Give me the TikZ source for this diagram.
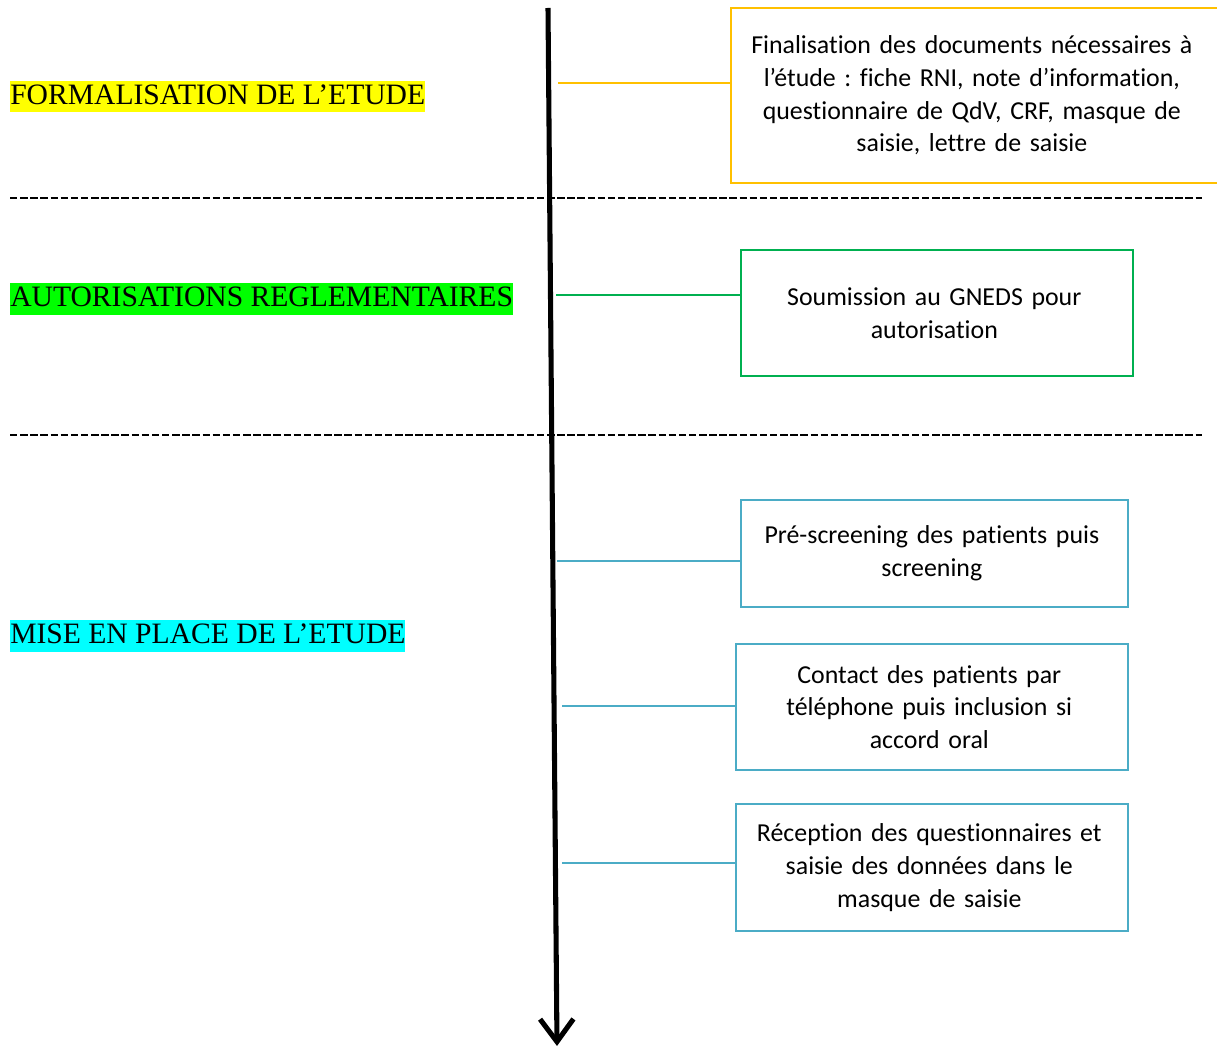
\documentclass[tikz,border=0pt]{standalone}
\usepackage{fontspec}
\setmainfont{Liberation Serif}
\newfontfamily\boxfont[Ligatures=NoCommon]{Carlito}
\usetikzlibrary{arrows.meta}
\definecolor{cyel}{HTML}{FFC000}
\definecolor{cgrn}{HTML}{00B050}
\definecolor{cblu}{HTML}{4BACC6}
\definecolor{hyel}{HTML}{FFFF00}
\definecolor{hgrn}{HTML}{00FF00}
\definecolor{hcya}{HTML}{00FFFF}
\frenchspacing
\begin{document}
\begin{tikzpicture}[x=0.75pt,y=-0.75pt,
  phase/.style={anchor=west,inner xsep=0pt,inner ysep=0pt,text height=17.5pt,text depth=6pt,
    font=\fontsize{22.2}{24}\selectfont},
  stepbox/.style={draw,line width=1.5pt,align=center,inner sep=0pt,
    font=\boxfont\fontsize{19.4}{24.5}\selectfont},
  link/.style={line width=1pt},
  sep/.style={line width=1.5pt,dash pattern=on 5.6pt off 2pt}]
\useasboundingbox (0,0) rectangle (1217,1048);
% phase labels
\node[phase,fill=hyel] (p1) at (10,96.5) {FORMALISATION DE L’ETUDE};
\node[phase,fill=hgrn] (p2) at (10,299) {AUTORISATIONS REGLEMENTAIRES};
\node[phase,fill=hcya] (p3) at (10,636) {MISE EN PLACE DE L’ETUDE};
% separators
\coordinate (s1a) at (10,198); \coordinate (s1b) at (1202,198);
\coordinate (s2a) at (10,435); \coordinate (s2b) at (1202,435);
\draw[sep] (s1a) -- (s1b);
\draw[sep] (s2a) -- (s2b);
% boxes
\node[stepbox,draw=cyel,minimum width=491*0.75pt,minimum height=175*0.75pt,text width=480*0.75pt] (b1) at (976.5,95.5) {\hspace*{-7pt}Finalisation des documents nécessaires à\\ \hspace*{-7pt}l’étude : fiche RNI, note d’information,\\ \hspace*{-7pt}questionnaire de QdV, CRF, masque de\\ \hspace*{-7pt}saisie, lettre de saisie};
\node[stepbox,draw=cgrn,minimum width=392*0.75pt,minimum height=126*0.75pt,text width=380*0.75pt] (b2) at (937,313) {\hspace*{-4pt}Soumission au GNEDS pour\\ \hspace*{-4pt}autorisation};
\node[stepbox,draw=cblu,minimum width=387*0.75pt,minimum height=107*0.75pt,text width=375*0.75pt] (b3) at (934.5,553.5) {\hspace*{-4pt}Pré-screening des patients puis\\ \hspace*{-4pt}screening};
\node[stepbox,draw=cblu,minimum width=392*0.75pt,minimum height=126*0.75pt,text width=380*0.75pt] (b4) at (932,707) {\hspace*{-4pt}Contact des patients par\\ \hspace*{-4pt}téléphone puis inclusion si\\ \hspace*{-4pt}accord oral};
\node[stepbox,draw=cblu,minimum width=392*0.75pt,minimum height=127*0.75pt,text width=380*0.75pt] (b5) at (932,867.5) {\hspace*{-4pt}Réception des questionnaires et\\ \hspace*{-4pt}saisie des données dans le\\ \hspace*{-4pt}masque de saisie};
% timeline arrow
\coordinate (top) at (548,8);
\coordinate (bot) at (557,1046);
\draw[line width=3.8pt,-{Straight Barb[length=17pt,width=25pt]}] (top) -- (bot);
% connectors
\coordinate (c1) at (558,83);
\coordinate (c2) at (556,295);
\coordinate (c3) at (557,561);
\coordinate (c4) at (562,706);
\coordinate (c5) at (562,863);
\draw[link,cyel] (c1) -- (c1 -| b1.west);
\draw[link,cgrn] (c2) -- (c2 -| b2.west);
\draw[link,cblu] (c3) -- (c3 -| b3.west);
\draw[link,cblu] (c4) -- (c4 -| b4.west);
\draw[link,cblu] (c5) -- (c5 -| b5.west);
\end{tikzpicture}
\end{document}
